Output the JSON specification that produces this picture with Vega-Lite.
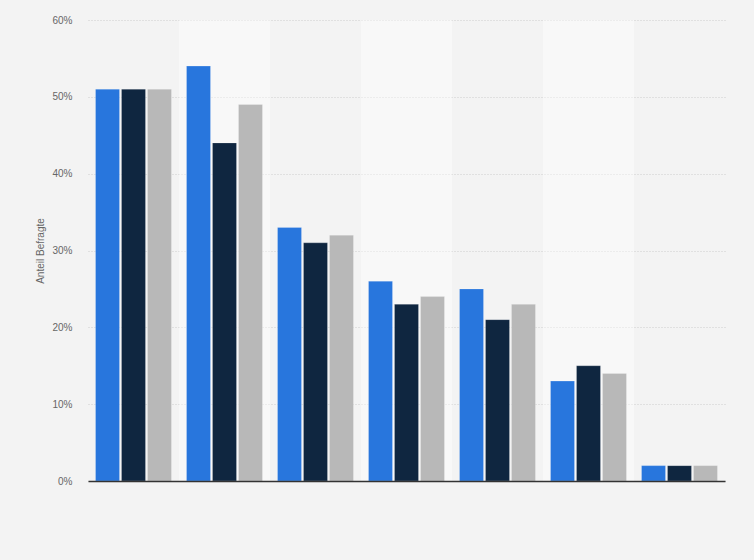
{
  "$schema": "https://vega.github.io/schema/vega-lite/v6.json",
  "width": 637,
  "height": 461,
  "autosize": {"type": "none"},
  "padding": {"left": 88, "top": 20, "right": 29, "bottom": 79},
  "background": "#f3f3f3",
  "config": {"view": {"stroke": null}, "font": "Liberation Sans"},
  "datasets": {
    "bars": [
      {"group": "1", "series": "A", "value": 51},
      {"group": "1", "series": "B", "value": 51},
      {"group": "1", "series": "C", "value": 51},
      {"group": "2", "series": "A", "value": 54},
      {"group": "2", "series": "B", "value": 44},
      {"group": "2", "series": "C", "value": 49},
      {"group": "3", "series": "A", "value": 33},
      {"group": "3", "series": "B", "value": 31},
      {"group": "3", "series": "C", "value": 32},
      {"group": "4", "series": "A", "value": 26},
      {"group": "4", "series": "B", "value": 23},
      {"group": "4", "series": "C", "value": 24},
      {"group": "5", "series": "A", "value": 25},
      {"group": "5", "series": "B", "value": 21},
      {"group": "5", "series": "C", "value": 23},
      {"group": "6", "series": "A", "value": 13},
      {"group": "6", "series": "B", "value": 15},
      {"group": "6", "series": "C", "value": 14},
      {"group": "7", "series": "A", "value": 2},
      {"group": "7", "series": "B", "value": 2},
      {"group": "7", "series": "C", "value": 2}
    ],
    "bands": [{"group": "2"}, {"group": "4"}, {"group": "6"}]
  },
  "layer": [
    {
      "data": {"name": "bands"},
      "mark": {"type": "rect", "color": "#ffffff", "opacity": 0.4},
      "encoding": {
        "x": {
          "field": "group", "type": "nominal",
          "scale": {"domain": ["1","2","3","4","5","6","7"], "paddingInner": 0, "paddingOuter": 0}
        }
      }
    },
    {
      "data": {"name": "bars"},
      "mark": {"type": "bar", "stroke": "#ffffff", "strokeWidth": 0.6, "strokeOpacity": 0.35},
      "encoding": {
        "x": {
          "field": "group", "type": "nominal",
          "scale": {"domain": ["1","2","3","4","5","6","7"], "paddingInner": 0, "paddingOuter": 0},
          "axis": {"title": null, "labels": false, "ticks": false, "domain": true, "domainColor": "#333333", "domainWidth": 1.5, "grid": false, "zindex": 1}
        },
        "xOffset": {
          "field": "series", "type": "nominal",
          "scale": {"paddingInner": 0.077, "paddingOuter": 0.29}
        },
        "y": {
          "field": "value", "type": "quantitative",
          "scale": {"domain": [0, 60]},
          "axis": {
            "title": "Anteil Befragte",
            "titleColor": "#666666", "titleFontSize": 10, "titleFontWeight": "normal",
            "titlePadding": 6,
            "values": [0, 10, 20, 30, 40, 50, 60],
            "labelExpr": "datum.value + '%'",
            "labelColor": "#666666", "labelFontSize": 10, "labelPadding": 16,
            "domain": false, "ticks": false,
            "grid": true, "gridColor": "#cccccc", "gridDash": [1, 2], "gridWidth": 1
          }
        },
        "color": {
          "field": "series", "type": "nominal",
          "scale": {"domain": ["A", "B", "C"], "range": ["#2876dd", "#0f2640", "#b8b8b8"]},
          "legend": null
        }
      }
    }
  ]
}
